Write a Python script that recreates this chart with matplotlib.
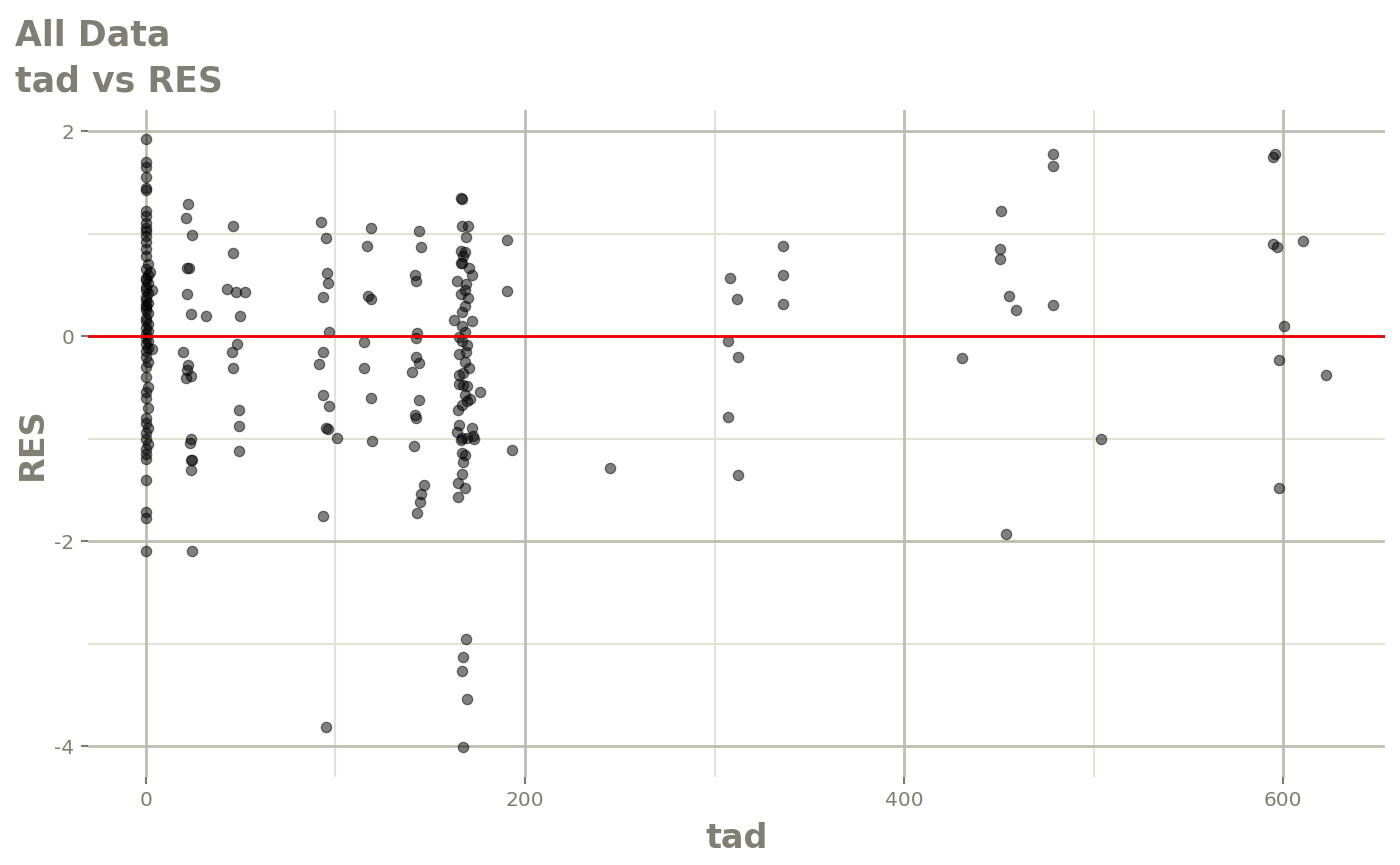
import matplotlib
matplotlib.use("Agg")
import matplotlib.pyplot as plt
import numpy as np

# ---- data (tad, RES) ----
tad_0 = [0, 0, 0, 0, 0, 0, 0, 0, 0, 0, 0, 0, 0, 0, 0, 1, 0, 1, 0, 0,
         1, 0, 0, 1, 0, 0, 1, 0, 0, 1, 0, 0, 1, 0, 1, 0, 0, 1, 0, 1,
         0, 0, 1, 0, 0, 1, 0, 0, 1, 0, 0, 1, 0, 0, 1, 0, 0, 0, 0, 0,
         0, 0, 0, 3, 3, 2]
res_0 = [1.92, 1.70, 1.65, 1.55, 1.44, 1.42, 1.22, 1.17, 1.10, 1.05, 1.02, 0.98, 0.92, 0.85, 0.78,
         0.70, 0.65, 0.60, 0.57, 0.55, 0.52, 0.48, 0.45, 0.42, 0.38, 0.35, 0.32, 0.28, 0.25, 0.22,
         0.18, 0.15, 0.12, 0.08, 0.05, 0.02, -0.02, -0.05, -0.08, -0.12, -0.15, -0.20, -0.25, -0.30,
         -0.40, -0.50, -0.55, -0.60, -0.70, -0.80, -0.85, -0.90, -0.95, -1.00, -1.05, -1.10, -1.15,
         -1.20, -1.40, -1.72, -1.78, -2.10, 0.30, 0.45, -0.13, 0.62]

tad_a = [22.2, 21, 24.3, 21.5, 22.5, 21.5, 23.5, 19.4, 22, 21.5, 21, 24, 24, 23, 24.5, 23.5, 24,
         24.5, 31.7]
res_a = [1.29, 1.15, 0.99, 0.66, 0.66, 0.41, 0.21, -0.16, -0.28, -0.33, -0.41, -0.39, -1.00, -1.04,
         -1.21, -1.21, -1.31, -2.10, 0.20]

tad_b = [46, 46, 43, 47.5, 52, 49.6, 48, 45.5, 46, 49, 49, 49]
res_b = [1.07, 0.81, 0.46, 0.43, 0.43, 0.20, -0.08, -0.16, -0.31, -0.72, -0.88, -1.12]

tad_c = [92.3, 95, 95.5, 96, 93.5, 96.5, 93.5, 91.3, 93.5, 96.5, 95, 96, 100.8, 93.5, 95]
res_c = [1.11, 0.96, 0.61, 0.52, 0.38, 0.04, -0.16, -0.27, -0.58, -0.68, -0.90, -0.91, -0.99,
         -1.76, -3.81]

tad_d = [118.7, 116.6, 117, 118.7, 115, 115, 118.7, 119.2]
res_d = [1.05, 0.88, 0.39, 0.36, -0.06, -0.31, -0.60, -1.02]

tad_e = [144, 145, 142, 142.5, 143, 142.5, 142.5, 144, 140.4, 142, 142.5, 144, 141.5, 146.7,
         145, 144.5, 143]
res_e = [1.02, 0.87, 0.60, 0.54, 0.03, -0.02, -0.20, -0.26, -0.35, -0.77, -0.80, -0.62, -1.07,
         -1.45, -1.54, -1.62, -1.73]

tad_f = [166, 167, 166.5, 170, 169, 166, 168.5, 167.5, 166, 167, 170.5, 172, 164, 169, 168.5,
         166, 170, 168.5, 167, 162.5, 172, 167, 168.5, 165, 167, 169.5, 165, 169, 168.5, 170.5,
         165, 167.5, 169.5, 165, 176, 167.5, 168.5, 169.5, 167, 171, 164.5, 172, 165, 164, 166.5,
         169.5, 172.5, 173, 166.5, 168.5, 166.5, 167.5, 168.5, 164.5, 164.5, 169, 167.5, 166.5,
         169.5, 167.5, 166]
res_f = [1.35, 1.34, 1.07, 1.07, 0.97, 0.83, 0.82, 0.78, 0.71, 0.71, 0.66, 0.60, 0.54, 0.51,
         0.45, 0.41, 0.37, 0.29, 0.23, 0.16, 0.15, 0.10, 0.04, -0.01, -0.05, -0.09, -0.18, -0.16,
         -0.25, -0.31, -0.38, -0.36, -0.49, -0.47, -0.55, -0.48, -0.58, -0.63, -0.67, -0.61,
         -0.72, -0.90, -0.87, -0.94, -0.99, -0.99, -0.98, -1.00, -1.14, -1.16, -1.35, -1.23,
         -1.48, -1.43, -1.57, -2.96, -3.13, -3.27, -3.54, -4.01, -1.01]

tad_g = [190.5, 190.5, 193, 245, 308, 312, 307, 312.4, 307, 312.4, 336, 336, 336, 430.6, 451,
         450.5, 450.5, 455.4, 459, 454, 478.6, 478.6, 478.6, 504, 594.7, 595.7, 594.7, 596.8,
         610.6, 600.5, 598, 598, 622.7]
res_g = [0.94, 0.44, -1.11, -1.29, 0.57, 0.36, -0.05, -0.20, -0.79, -1.36, 0.88, 0.60, 0.31,
         -0.21, 1.22, 0.85, 0.75, 0.39, 0.25, -1.93, 1.78, 1.66, 0.30, -1.00, 1.75, 1.78, 0.90,
         0.87, 0.93, 0.10, -0.23, -1.48, -0.38]

tad = np.array(tad_0 + tad_a + tad_b + tad_c + tad_d + tad_e + tad_f + tad_g, dtype=float)
res = np.array(res_0 + res_a + res_b + res_c + res_d + res_e + res_f + res_g, dtype=float)

x_major = [0, 200, 400, 600]
x_minor = [100, 300, 500]
y_major = [-4, -2, 0, 2]
y_minor = [-3, -1, 1]

# ---- styling ----
text_col = "#7f7f73"
tick_col = "#7a7a72"
major_col = "#bdbdb0"
minor_col = "#e3e3d4"

W, H = 1400, 865
fig = plt.figure(figsize=(14, 8.65), dpi=100)
L, R, T, B = 88, 1385, 110, 777
ax = fig.add_axes([L / W, 1 - B / H, (R - L) / W, (B - T) / H])

ax.set_xlim(-30.6, 653.8)
ax.set_ylim(-4.302, 2.205)

for v in x_minor:
    ax.axvline(v, color=minor_col, lw=1.5, zorder=0)
for v in y_minor:
    ax.axhline(v, color=minor_col, lw=1.5, zorder=0)
for v in x_major:
    ax.axvline(v, color=major_col, lw=2.0, zorder=0)
for v in y_major:
    ax.axhline(v, color=major_col, lw=2.0, zorder=0)

ax.scatter(tad, res, s=55, color="black", alpha=0.5, edgecolors="black",
           linewidths=0.9, zorder=2)
ax.axhline(0, color="#ee0000", lw=2.0, zorder=3)

for s in ax.spines.values():
    s.set_visible(False)
ax.set_xticks(x_major)
ax.set_yticks(y_major)
ax.set_xticklabels([str(v) for v in x_major])
ax.set_yticklabels([str(v) for v in y_major])
ax.tick_params(length=5, width=1.5, color=tick_col, labelsize=14.5,
               labelcolor=text_col, pad=5)

fig.text((L + R) / 2 / W, 1 - 848 / H, "tad", fontsize=24, fontweight="bold",
         color=text_col, ha="center", va="baseline")
fig.text(42 / W, 1 - (T + B) / 2 / H, "RES", fontsize=24, fontweight="bold",
         color=text_col, ha="center", va="baseline", rotation=90,
         rotation_mode="anchor")

fig.text(15 / W, 1 - 45 / H, "All Data", fontsize=25, fontweight="bold",
         color=text_col, ha="left", va="baseline")
fig.text(15 / W, 1 - 92 / H, "tad vs RES", fontsize=25, fontweight="bold",
         color=text_col, ha="left", va="baseline")

fig.savefig("out.png", dpi=100)
